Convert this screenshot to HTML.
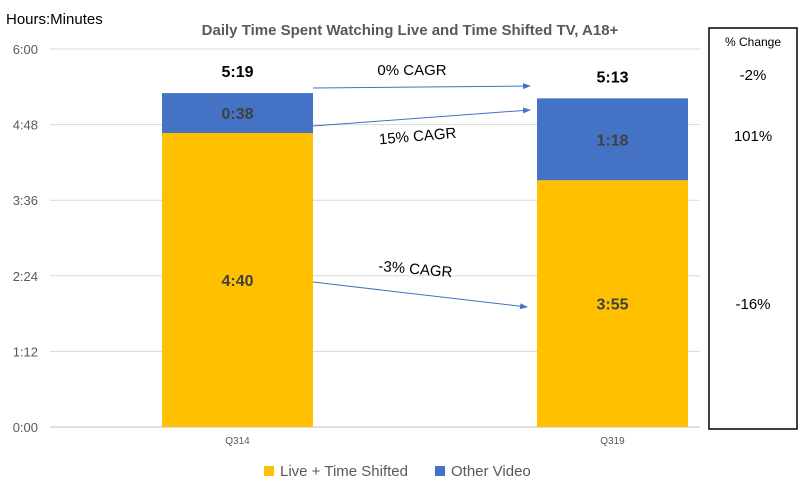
<!DOCTYPE html>
<html><head><meta charset="utf-8">
<style>
body{margin:0;background:#fff;font-family:"Liberation Sans",sans-serif;}
svg text{font-family:"Liberation Sans",sans-serif;}
</style></head>
<body>
<svg id="chart" width="800" height="486" viewBox="0 0 800 486" xmlns="http://www.w3.org/2000/svg">
<defs><marker id="ah" markerWidth="8" markerHeight="6" refX="7" refY="3" orient="auto"><path d="M0,0 L8,3 L0,6 z" fill="#4472c4"/></marker></defs>
<text x="6" y="24" font-size="15" fill="#000">Hours:Minutes</text>
<text x="410" y="35" font-size="15" font-weight="bold" fill="#595959" text-anchor="middle">Daily Time Spent Watching Live and Time Shifted TV, A18+</text>
<g id="grid"></g>
<g id="bars"></g>
<g>
<line x1="313" y1="88" x2="530" y2="86" stroke="#4472c4" stroke-width="1" marker-end="url(#ah)"/>
<line x1="313" y1="126" x2="530" y2="110" stroke="#4472c4" stroke-width="1" marker-end="url(#ah)"/>
<line x1="313" y1="282" x2="527" y2="307" stroke="#4472c4" stroke-width="1" marker-end="url(#ah)"/>
<text x="412" y="75" font-size="15" text-anchor="middle">0% CAGR</text>
<text x="418" y="141" font-size="15" text-anchor="middle" transform="rotate(-5 418 141)">15% CAGR</text>
<text x="415" y="274" font-size="15" text-anchor="middle" transform="rotate(5 415 274)">-3% CAGR</text>
</g>
<rect x="709" y="28" width="88" height="401" fill="none" stroke="#000" stroke-width="1.5"/>
<text x="753" y="46" font-size="12" text-anchor="middle">% Change</text>
<text x="753" y="80" font-size="15" text-anchor="middle">-2%</text>
<text x="753" y="141" font-size="15" text-anchor="middle">101%</text>
<text x="753" y="309" font-size="15" text-anchor="middle">-16%</text>
<g>
<rect x="264" y="466" width="10" height="10" fill="#ffc000"/>
<text x="280" y="476" font-size="15" fill="#595959">Live + Time Shifted</text>
<rect x="435" y="466" width="10" height="10" fill="#4472c4"/>
<text x="451" y="476" font-size="15" fill="#595959">Other Video</text>
</g>
</svg>
<script>
const categories=["Q314","Q319"];
const liveMinutes=[280,235];
const otherMinutes=[38,78];
const liveLabels=["4:40","3:55"];
const otherLabels=["0:38","1:18"];
const totalLabels=["5:19","5:13"];
const tickLabels=["0:00","1:12","2:24","3:36","4:48","6:00"];
const tickMinutes=[0,72,144,216,288,360];
const NS="http://www.w3.org/2000/svg";
const y=v=>427-v*378/360;
const xc=i=>237.5+i*375;
const bw=151;
function mk(p,t,a){const e=document.createElementNS(NS,t);for(const k in a)e.setAttribute(k,a[k]);p.appendChild(e);return e;}
const grid=document.getElementById('grid'),bars=document.getElementById('bars');
tickMinutes.forEach((m,i)=>{
 const l=mk(grid,'line',{x1:50,x2:700,y1:y(m),y2:y(m),stroke:m===0?'#bfbfbf':'#d9d9d9'});
 
 
 const t=mk(grid,'text',{x:38,y:y(m)+5,'font-size':13,'text-anchor':'end',fill:'#595959'});
 t.textContent=tickLabels[i];
 
 
});
categories.forEach((c,i)=>{
 const x=xc(i)-bw/2;
 const r1=mk(bars,'rect',{x:x,y:y(liveMinutes[i]),width:bw,height:y(0)-y(liveMinutes[i]),fill:'#ffc000'});
 
 
 const tot=liveMinutes[i]+otherMinutes[i];
 const r2=mk(bars,'rect',{x:x,y:y(tot),width:bw,height:y(liveMinutes[i])-y(tot),fill:'#4472c4'});
 
 
 const t1=mk(bars,'text',{x:xc(i),y:(y(0)+y(liveMinutes[i]))/2+6,'font-size':16,'font-weight':'bold','text-anchor':'middle',fill:'#404040'});
 t1.textContent=liveLabels[i];
 
 
 const t2=mk(bars,'text',{x:xc(i),y:(y(liveMinutes[i])+y(tot))/2+6,'font-size':16,'font-weight':'bold','text-anchor':'middle',fill:'#404040'});
 t2.textContent=otherLabels[i];
 
 
 const t3=mk(bars,'text',{x:xc(i),y:y(tot)-16,'font-size':16,'font-weight':'bold','text-anchor':'middle',fill:'#000'});
 t3.textContent=totalLabels[i];
 
 
 const t4=mk(bars,'text',{x:xc(i),y:444,'font-size':10,'text-anchor':'middle',fill:'#595959'});
 t4.textContent=c;
 
 
});
</script>
</body></html>
